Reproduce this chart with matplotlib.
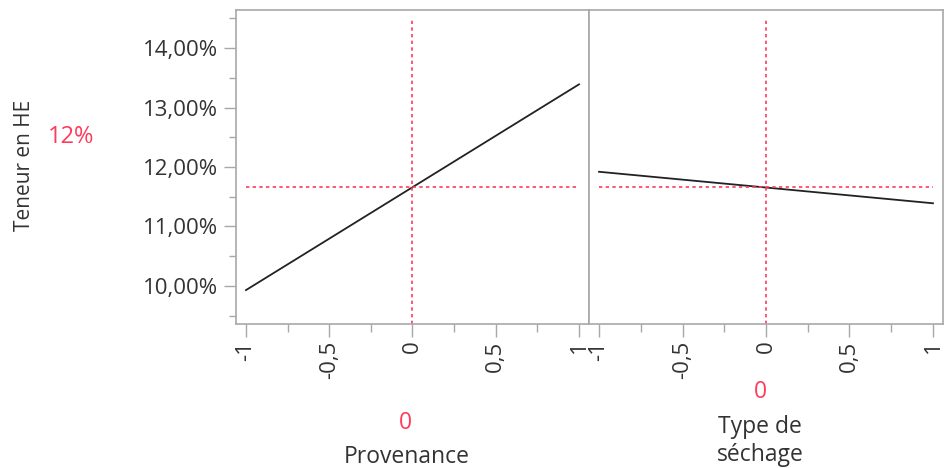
## Prediction profiler: Teneur en HE vs two coded factors

## Import libraries
import matplotlib
matplotlib.use("Agg")
import matplotlib.pyplot as plt
from matplotlib.ticker import MultipleLocator, FuncFormatter

plt.rcParams['font.family'] = ['Open Sans', 'DejaVu Sans']

# Data
factors = ['Provenance', 'Type de\nséchage']
x_levels = [-1, 1]
provenance_pred = [9.93, 13.39]      # % at x = -1, 1
sechage_pred = [11.92, 11.39]        # % at x = -1, 1
current_setting = [0, 0]
current_value = 11.66
response_label = 'Teneur en HE'
response_text = '12%'

RED = '#ff3b5c'
GRID = '#a8a8a8'
TXT = '#333333'


def pct_fmt(v, pos):
    return f"{v:.2f}".replace('.', ',') + '%'


def x_fmt(v, pos):
    if abs(v - round(v)) < 1e-9:
        return f"{int(round(v))}"
    return f"{v:g}".replace('.', ',')


fig = plt.figure(figsize=(9.5, 4.68), dpi=100)
axes = [fig.add_axes([0.2484, 0.3077, 0.3716, 0.6709]),
        fig.add_axes([0.6200, 0.3077, 0.3726, 0.6709])]

series = [provenance_pred, sechage_pred]
for i, ax in enumerate(axes):
    ax.plot(x_levels, series[i], color='#222222', lw=1.3)
    ax.hlines(current_value, x_levels[0], x_levels[-1], color=RED, lw=1.2,
              linestyles=(0, (2, 2)))
    ax.axvline(current_setting[i], ymin=0, ymax=0.97, color=RED, lw=1.2,
               ls=(0, (2, 2)))

    ax.set_xlim(-1.06, 1.06)
    ax.set_ylim(9.36, 14.64)
    ax.xaxis.set_major_locator(MultipleLocator(0.5))
    ax.xaxis.set_minor_locator(MultipleLocator(0.25))
    ax.xaxis.set_major_formatter(FuncFormatter(x_fmt))
    ax.tick_params(axis='x', which='major', length=9, width=1, color=GRID,
                   labelsize=16, labelcolor=TXT, labelrotation=90, pad=3)
    ax.tick_params(axis='x', which='minor', length=6, width=1, color=GRID)
    for s in ax.spines.values():
        s.set_color(GRID)
        s.set_linewidth(1.2)

# y axis only on the left panel
ax0 = axes[0]
ax0.yaxis.set_major_locator(MultipleLocator(1))
ax0.yaxis.set_minor_locator(MultipleLocator(0.5))
ax0.yaxis.set_major_formatter(FuncFormatter(pct_fmt))
ax0.tick_params(axis='y', which='major', length=9, width=1, color=GRID,
                labelsize=16, labelcolor=TXT, pad=4)
ax0.tick_params(axis='y', which='minor', length=5, width=1, color=GRID)
axes[1].tick_params(axis='y', which='both', left=False, labelleft=False)

# response label and current value
fig.text(25 / 950, 1 - 165 / 468, response_label, rotation=90, ha='center',
         va='center', fontsize=15, color=TXT)
fig.text(71 / 950, 1 - 137 / 468, response_text, ha='center', va='center',
         fontsize=17, color=RED)

# factor labels and current settings
fig.text(405 / 950, 1 - 423 / 468, x_fmt(current_setting[0], None), ha='center',
         va='center', fontsize=16.5, color=RED)
fig.text(407 / 950, 1 - 457 / 468, factors[0], ha='center', va='center',
         fontsize=16.5, color=TXT)
fig.text(760 / 950, 1 - 392 / 468, x_fmt(current_setting[1], None), ha='center',
         va='center', fontsize=16.5, color=RED)
fig.text(760 / 950, 1 - 441 / 468, factors[1], ha='center', va='center',
         fontsize=16.5, color=TXT, linespacing=1.25)

fig.savefig('out.png', dpi=100)
